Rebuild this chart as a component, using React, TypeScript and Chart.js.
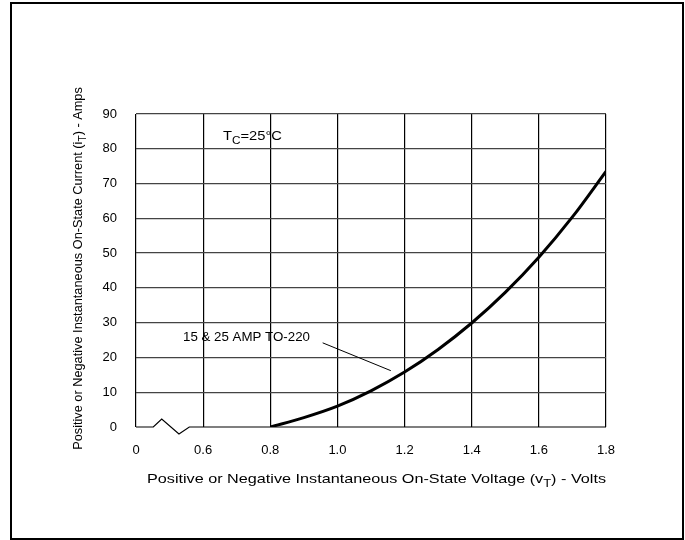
import React, { useEffect, useRef } from "react";
import { Chart, registerables } from "chart.js";

Chart.register(...registerables);

// ---- data ----
const voltage = [0.8, 0.9, 1.0, 1.1, 1.2, 1.3, 1.4, 1.5, 1.6, 1.7, 1.8];
const current = [0, 2.7, 6.0, 10.4, 15.8, 22.3, 29.9, 38.7, 48.8, 60.4, 73.5];
const xTickValues = [0.4, 0.6, 0.8, 1.0, 1.2, 1.4, 1.6, 1.8];
const xTickLabels = ["0", "0.6", "0.8", "1.0", "1.2", "1.4", "1.6", "1.8"];
const yTickValues = [0, 10, 20, 30, 40, 50, 60, 70, 80, 90];
const yTickLabels = ["0", "10", "20", "30", "40", "50", "60", "70", "80", "90"];
// axis break zigzag (volts, amps)
const breakX = [0.4515, 0.4766, 0.528, 0.5588];
const breakY = [0, 2.3, -2.0, 0];
const curveLabel = "15 & 25 AMP TO-220";
const curveLabelPos = [0.54, 25.9];
const leaderFrom = [0.956, 24.2];
const leaderTo = [1.159, 16.2];
const tempLabelParts = [
  { text: "T" },
  { text: "C", sub: true },
  { text: "=25°C" },
];
const tempLabelPos = [0.659, 83.7];
const xTitleParts = [
  { text: "Positive or Negative Instantaneous On-State Voltage (v" },
  { text: "T", sub: true },
  { text: ") - Volts" },
];
const yTitleParts = [
  { text: "Positive or Negative Instantaneous On-State Current (i" },
  { text: "T", sub: true },
  { text: ") - Amps" },
];

const FONT = "'Liberation Sans', Arial, Helvetica, sans-serif";

type Part = { text: string; sub?: boolean };

// draws text with optional subscripts; targetWidth (if given) stretches horizontally
function drawRich(
  ctx: CanvasRenderingContext2D,
  parts: Part[],
  x: number,
  y: number,
  size: number,
  align: "left" | "center",
  targetWidth?: number
) {
  const subSize = size * 0.8;
  const widths = parts.map((p) => {
    ctx.font = `${p.sub ? subSize : size}px ${FONT}`;
    return ctx.measureText(p.text).width;
  });
  const total = widths.reduce((a, b) => a + b, 0);
  const sx = targetWidth ? targetWidth / total : 1;
  ctx.save();
  ctx.translate(x, y);
  ctx.scale(sx, 1);
  let cx = align === "center" ? -total / 2 : 0;
  ctx.textAlign = "left";
  ctx.textBaseline = "alphabetic";
  parts.forEach((p, i) => {
    ctx.font = `${p.sub ? subSize : size}px ${FONT}`;
    ctx.fillText(p.text, cx, p.sub ? size * 0.3 : 0);
    cx += widths[i];
  });
  ctx.restore();
}

const annotations = {
  id: "annotations",
  afterDraw(chart: any) {
    const ctx: CanvasRenderingContext2D = chart.ctx;
    const xs = chart.scales.x;
    const ys = chart.scales.y;
    const px = (v: number) => xs.getPixelForValue(v);
    const py = (v: number) => ys.getPixelForValue(v);
    ctx.save();
    ctx.fillStyle = "#000";
    ctx.strokeStyle = "#000";

    // bottom axis line with break symbol
    ctx.lineWidth = 1.2;
    ctx.beginPath();
    ctx.moveTo(px(xTickValues[0]), py(0));
    for (let i = 0; i < breakX.length; i++) ctx.lineTo(px(breakX[i]), py(breakY[i]));
    ctx.lineTo(px(xTickValues[xTickValues.length - 1]), py(0));
    ctx.stroke();

    // leader line
    ctx.lineWidth = 1;
    ctx.beginPath();
    ctx.moveTo(px(leaderFrom[0]), py(leaderFrom[1]));
    ctx.lineTo(px(leaderTo[0]), py(leaderTo[1]));
    ctx.stroke();

    // curve label
    drawRich(ctx, [{ text: curveLabel }], px(curveLabelPos[0]), py(curveLabelPos[1]) + 4.5, 13, "left", 127);

    // temperature label
    drawRich(ctx, tempLabelParts, px(tempLabelPos[0]), py(tempLabelPos[1]) + 4.5, 13, "left", 59);

    // x title
    drawRich(ctx, xTitleParts, 376.5, 483, 13, "center", 459);

    // y title
    const ca = chart.chartArea;
    ctx.save();
    ctx.translate(82, (ca.top + ca.bottom) / 2 - 2);
    ctx.rotate(-Math.PI / 2);
    drawRich(ctx, yTitleParts, 0, 0, 12.75, "center");
    ctx.restore();

    ctx.restore();
  },
};

export default function App() {
  const ref = useRef<HTMLCanvasElement | null>(null);
  useEffect(() => {
    if (!ref.current) return;
    const chart = new Chart(ref.current, {
      type: "line",
      data: {
        datasets: [
          {
            data: voltage.map((v, i) => ({ x: v, y: current[i] })),
            borderColor: "#000",
            borderWidth: 3,
            pointRadius: 0,
            cubicInterpolationMode: "monotone",
            fill: false,
          },
        ],
      },
      options: {
        animation: false,
        responsive: false,
        devicePixelRatio: 1,
        layout: { padding: { left: 0, top: 114, right: 79, bottom: 0 } },
        plugins: { legend: { display: false }, tooltip: { enabled: false } },
        scales: {
          x: {
            type: "linear",
            min: xTickValues[0],
            max: xTickValues[xTickValues.length - 1],
            afterBuildTicks: (s: any) => {
              s.ticks = xTickValues.map((v) => ({ value: v }));
            },
            afterFit: (s: any) => {
              s.height = 113;
            },
            ticks: {
              padding: 16,
              color: "#000",
              font: { family: FONT, size: 13 },
              maxRotation: 0,
              callback: (_v: any, i: number) => xTickLabels[i],
            },
            grid: { color: "#000", lineWidth: 1.2, drawTicks: false },
            border: { display: false },
          },
          y: {
            type: "linear",
            min: yTickValues[0],
            max: yTickValues[yTickValues.length - 1],
            afterBuildTicks: (s: any) => {
              s.ticks = yTickValues.map((v) => ({ value: v }));
            },
            afterFit: (s: any) => {
              s.width = 136;
            },
            ticks: {
              padding: 19,
              color: "#000",
              font: { family: FONT, size: 13 },
              callback: (_v: any, i: number) => yTickLabels[i],
            },
            grid: {
              color: (c: any) => (c.tick && c.tick.value === 0 ? "rgba(0,0,0,0)" : "#444"),
              lineWidth: 1.3,
              drawTicks: false,
            },
            border: { display: false },
          },
        },
      },
      plugins: [annotations],
    });
    return () => chart.destroy();
  }, []);

  return (
    <div style={{ position: "fixed", left: 0, top: 0, width: 685, height: 540, background: "#fff" }}>
      <canvas ref={ref} width={685} height={540} style={{ position: "absolute", left: 0, top: 0 }} />
      <div
        style={{
          position: "absolute",
          left: 10,
          top: 2,
          width: 674,
          height: 538,
          border: "2px solid #000",
          boxSizing: "border-box",
          pointerEvents: "none",
        }}
      />
    </div>
  );
}
